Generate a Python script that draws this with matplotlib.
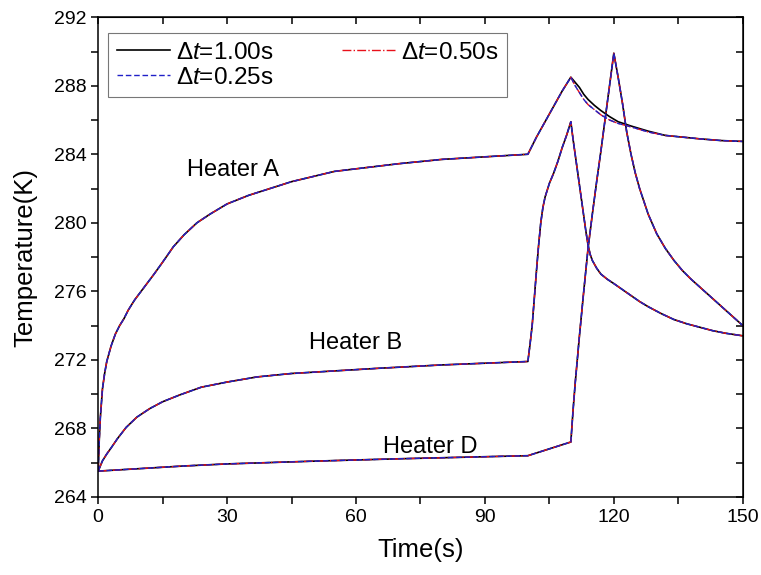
import matplotlib
matplotlib.use("Agg")
import matplotlib.pyplot as plt
from matplotlib.ticker import MultipleLocator

plt.rcParams['font.family'] = ['Liberation Sans', 'DejaVu Sans']
plt.rcParams['mathtext.fontset'] = 'custom'
plt.rcParams['mathtext.rm'] = 'Liberation Sans'
plt.rcParams['mathtext.it'] = 'Liberation Sans:italic'

# Heater A: warm-up and pulse (same for every step size)
a_time = [0, 0.25, 0.5, 1, 1.5, 2, 3, 4, 5, 6, 7, 8.5, 10, 11.5, 13, 15, 17.5, 20, 23, 26,
          30, 35, 40, 45, 50, 55, 60, 70, 80, 90, 100,
          101, 102, 104, 106, 108, 110]
a_temp = [265.5, 267.3, 268.6, 270.3, 271.2, 271.9, 272.8, 273.5, 274.0, 274.4, 274.9, 275.5,
          276.0, 276.5, 277.0, 277.7, 278.6, 279.3, 280.0, 280.5,
          281.1, 281.6, 282.0, 282.4, 282.7, 283.0, 283.15, 283.45, 283.7, 283.85, 284.0,
          284.5, 285.0, 285.9, 286.8, 287.7, 288.5]
# Heater A: cool-down after the pulse
a_cool_time = [111, 112, 113, 114, 115.5, 117, 119, 121, 124, 128, 132, 136, 140, 145, 150]
a_cool_temp = [288.0, 287.6, 287.2, 286.9, 286.6, 286.3, 286.0, 285.8, 285.6, 285.3,
               285.1, 285.0, 284.9, 284.8, 284.75]
a_cool_temp_1s = [288.2, 287.9, 287.5, 287.2, 286.85, 286.55, 286.2, 285.9, 285.65, 285.35,
                  285.1, 285.0, 284.9, 284.8, 284.75]

# Heater B
b_time = [0, 0.5, 1, 2, 3, 4.5, 6.5, 9, 12, 15, 19, 24, 30, 37, 45, 55, 65, 80, 100,
          100.5, 101, 101.5, 102, 102.5, 103, 103.5, 104, 105, 106, 107, 108, 109, 110,
          110.5, 111, 111.5, 112, 112.5, 113, 113.5, 114, 114.5, 115, 116, 117, 118.5, 120,
          122, 124, 126, 128, 131, 134, 137, 140, 143, 146, 150]
b_temp = [265.5, 265.8, 266.1, 266.5, 266.85, 267.4, 268.05, 268.65, 269.15, 269.55, 269.95,
          270.4, 270.7, 271.0, 271.2, 271.35, 271.5, 271.7, 271.9,
          272.9, 274.0, 275.6, 277.2, 278.7, 280.0, 280.9, 281.5, 282.3, 282.9, 283.6, 284.4,
          285.1, 285.9,
          284.9, 284.0, 283.1, 282.2, 281.3, 280.4, 279.5, 278.7, 278.15, 277.8, 277.35, 277.0,
          276.7, 276.45,
          276.1, 275.75, 275.4, 275.1, 274.7, 274.35, 274.1, 273.9, 273.7, 273.55, 273.4]

# Heater D
d_time = [0, 10, 20, 30, 40, 50, 60, 70, 80, 90, 100, 105, 110,
          110.5, 111, 111.5, 112, 113, 114, 115, 116, 117, 118, 119, 120,
          121, 122, 123, 124, 125, 126, 128, 130, 132, 134, 136, 138, 140, 142, 144, 146, 148, 150]
d_temp = [265.5, 265.65, 265.8, 265.92, 266.0, 266.08, 266.15, 266.22, 266.28, 266.34, 266.4,
          266.8, 267.2,
          269.0, 270.6, 272.0, 273.4, 276.0, 278.5, 280.5, 282.4, 284.2, 286.1, 288.0, 289.9,
          288.5, 287.0, 285.3, 284.0, 282.9, 282.0, 280.5, 279.35, 278.5, 277.8, 277.2, 276.7,
          276.25, 275.8, 275.35, 274.9, 274.45, 274.0]

step_labels = ['Δ$\\it{t}$=1.00s', 'Δ$\\it{t}$=0.50s', 'Δ$\\it{t}$=0.25s']
heater_names = ['Heater A', 'Heater B', 'Heater D']

fig = plt.figure(figsize=(7.61, 5.75), dpi=100)
ax = fig.add_axes([0.129, 0.136, 0.847, 0.834])

styles = [dict(color='black', lw=1.2, ls='-'),
          dict(color='#e8101a', lw=1.0, ls='-.'),
          dict(color='#2020c8', lw=1.0, ls=(0, (4, 2)))]

handles = []
for i, st in enumerate(styles):
    cool = a_cool_temp_1s if i == 0 else a_cool_temp
    h, = ax.plot(a_time + a_cool_time, a_temp + cool, **st)
    ax.plot(b_time, b_temp, **st)
    ax.plot(d_time, d_temp, **st)
    handles.append(h)

ax.text(31.4, 283.1, heater_names[0], fontsize=17, ha='center', va='center')
ax.text(59.8, 273.0, heater_names[1], fontsize=17, ha='center', va='center')
ax.text(77.3, 266.9, heater_names[2], fontsize=17, ha='center', va='center')

ax.set_xlim(0, 150)
ax.set_ylim(264, 292)
ax.xaxis.set_major_locator(MultipleLocator(30))
ax.xaxis.set_minor_locator(MultipleLocator(15))
ax.yaxis.set_major_locator(MultipleLocator(4))
ax.yaxis.set_minor_locator(MultipleLocator(2))

ax.tick_params(which='both', direction='out', length=5, width=1.1, labelsize=14,
               top=False, right=False)
for s in ax.spines.values():
    s.set_linewidth(1.1)

# inward mirror ticks on top and right
sec_x = ax.secondary_xaxis('top')
sec_x.xaxis.set_major_locator(MultipleLocator(15))
sec_x.tick_params(direction='in', length=5, width=1.1, labeltop=False)
sec_y = ax.secondary_yaxis('right')
sec_y.yaxis.set_major_locator(MultipleLocator(2))
sec_y.tick_params(direction='in', length=5, width=1.1, labelright=False)

ax.set_xlabel('Time(s)', fontsize=18.5, labelpad=9)
ax.set_ylabel('Temperature(K)', fontsize=18.5, labelpad=12)

# column-wise fill: 1.00s and 0.25s in first column, 0.50s in second
order = [0, 2, 1]
leg = ax.legend([handles[k] for k in order], [step_labels[k] for k in order],
                ncol=2, loc='upper left', fontsize=17.5, frameon=True, fancybox=False,
                edgecolor='#555555', handlelength=2.2, handletextpad=0.25,
                columnspacing=2.8, labelspacing=0.12, borderpad=0.35, borderaxespad=0,
                bbox_to_anchor=(0.0155, 0.967))
leg.get_frame().set_linewidth(0.8)

fig.savefig('out.png', dpi=100)
